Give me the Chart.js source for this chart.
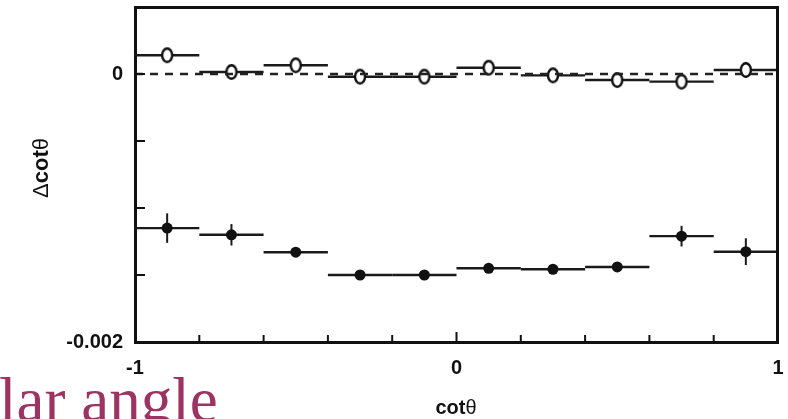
<!DOCTYPE html>
<html>
<head>
<meta charset="utf-8">
<script src="https://cdn.jsdelivr.net/npm/chart.js@4.4.1/dist/chart.umd.min.js"></script>
<style>
    html, body { margin: 0; padding: 0; background: #fff; overflow: hidden; }
    #wrap { position: relative; width: 788px; height: 419px; overflow: hidden; }
    #residChart { display: block; }
    #slideText {
        position: absolute; left: -1px; top: 369px;
        font-family: "Liberation Serif", "DejaVu Serif", serif;
        font-size: 63px; line-height: 63px; color: #9b3363;
        white-space: nowrap;
    }
</style>
</head>
<body>
<div id="wrap">
    <canvas id="residChart" width="788" height="419"></canvas>
    <div id="slideText">lar angle</div>
</div>
<script>
// bins in cot(theta), each 0.2 wide
const binCenters = [-0.9, -0.7, -0.5, -0.3, -0.1, 0.1, 0.3, 0.5, 0.7, 0.9];
const binHalfWidth = 0.1;

// open circles (after correction)
const openValues = [0.00014, 0.000015, 0.000065, -0.00002, -0.00002, 0.000047, -0.00001, -0.000045, -0.000057, 0.00003];
const openErrors = [0.00005, 0.00002, 0.00002, 0.00002, 0.00002, 0.00002, 0.00002, 0.00002, 0.00002, 0.00006];

// filled circles (before correction)
const filledValues = [-0.00115, -0.0012, -0.00133, -0.0015, -0.0015, -0.00145, -0.001457, -0.00144, -0.00121, -0.001326];
const filledErrors = [0.00011, 0.00008, 0.00003, 0.00003, 0.00003, 0.00003, 0.00003, 0.00003, 0.000077, 0.0001];

// axis ticks
const xTickLabels = [-1, 0, 1];
const yTickLabels = [0, -0.002];

const ink = '#111';

// open marker: slightly tall ellipse
function makeOpenMarker() {
    const c = document.createElement('canvas');
    c.width = 14; c.height = 18;
    const g = c.getContext('2d');
    g.beginPath();
    g.ellipse(7, 9, 5, 6.8, 0, 0, Math.PI * 2);
    g.fillStyle = '#fff';
    g.fill();
    g.lineWidth = 2.4;
    g.strokeStyle = ink;
    g.stroke();
    return c;
}

function toPoints(values) {
    return binCenters.map((x, i) => ({ x: x, y: values[i] }));
}

function near(v, list) {
    return list.some(t => Math.abs(v - t) < 1e-9);
}

// drop the label overhang so the plot box sits where the layout padding says
function noOverhang(s) {
    s.paddingTop = 0;
    s.paddingBottom = 0;
    s.paddingLeft = 0;
    s.paddingRight = 0;
}

// error bars, frame and inner ticks
const framePlugin = {
    id: 'framePlugin',
    beforeDatasetsDraw(chart) {
        const ctx = chart.ctx;
        const xs = chart.scales.x, ys = chart.scales.y;
        ctx.save();
        ctx.strokeStyle = '#1a1a1a';
        [[openValues, openErrors], [filledValues, filledErrors]].forEach(([vals, errs]) => {
            vals.forEach((v, i) => {
                const py = ys.getPixelForValue(v);
                ctx.lineWidth = 2.4;
                ctx.beginPath();
                ctx.moveTo(xs.getPixelForValue(binCenters[i] - binHalfWidth), py);
                ctx.lineTo(xs.getPixelForValue(binCenters[i] + binHalfWidth), py);
                ctx.stroke();
                const px = xs.getPixelForValue(binCenters[i]);
                ctx.lineWidth = 2;
                ctx.beginPath();
                ctx.moveTo(px, ys.getPixelForValue(v - errs[i]));
                ctx.lineTo(px, ys.getPixelForValue(v + errs[i]));
                ctx.stroke();
            });
        });
        ctx.restore();
    },
    afterDraw(chart) {
        const ctx = chart.ctx;
        const a = chart.chartArea;
        const xs = chart.scales.x, ys = chart.scales.y;
        ctx.save();
        ctx.strokeStyle = ink;

        // top and right frame
        ctx.lineWidth = 3;
        ctx.beginPath();
        ctx.moveTo(a.left, a.top + 0.5);
        ctx.lineTo(a.right - 0.5, a.top + 0.5);
        ctx.lineTo(a.right - 0.5, a.bottom);
        ctx.stroke();

        // inner ticks
        ctx.lineWidth = 2;
        ys.ticks.forEach(t => {
            const py = ys.getPixelForValue(t.value);
            ctx.beginPath();
            ctx.moveTo(a.left, py);
            ctx.lineTo(a.left + 10, py);
            ctx.stroke();
        });
        xs.ticks.forEach(t => {
            const px = xs.getPixelForValue(t.value);
            const len = Math.abs(t.value) < 1e-9 ? 10 : 7;
            ctx.beginPath();
            ctx.moveTo(px, a.bottom);
            ctx.lineTo(px, a.bottom - len);
            ctx.stroke();
        });

        // axis titles: symbol parts thin, "cot" bold
        const drawParts = (parts) => {
            let total = 0;
            parts.forEach(p => { ctx.font = p.font; p.w = ctx.measureText(p.text).width; total += p.w; });
            let x = -total / 2;
            parts.forEach(p => { ctx.font = p.font; ctx.fillText(p.text, x, 0); x += p.w; });
        };
        const bold = 'bold 20px "Liberation Sans", Arial, sans-serif';
        const thin = '20px "Liberation Sans", Arial, sans-serif';
        const boldY = 'bold 22px "Liberation Sans", Arial, sans-serif';
        const thinY = '22px "Liberation Sans", Arial, sans-serif';
        ctx.fillStyle = ink;
        ctx.textBaseline = 'middle';
        ctx.textAlign = 'left';

        ctx.save();
        ctx.translate(456, 408);
        drawParts([{ text: 'cot', font: bold }, { text: '\u03b8', font: thin }]);
        ctx.restore();

        ctx.save();
        ctx.translate(42, 168);
        ctx.rotate(-Math.PI / 2);
        drawParts([{ text: '\u0394', font: thinY }, { text: 'cot', font: boldY }, { text: '\u03b8', font: thinY }]);
        ctx.restore();

        ctx.restore();
    }
};

const tickFont = { family: '"Liberation Sans", Arial, sans-serif', size: 20, weight: 'bold' };

const ctx = document.getElementById('residChart').getContext('2d');
const residChart = new Chart(ctx, {
    type: 'scatter',
    data: {
        datasets: [
            {
                type: 'line',
                label: 'zero',
                data: [{ x: -1, y: 0 }, { x: 1, y: 0 }],
                borderColor: '#222',
                borderWidth: 2.4,
                borderDash: [8, 7],
                pointRadius: 0,
                fill: false
            },
            {
                label: 'open',
                data: toPoints(openValues),
                pointStyle: makeOpenMarker(),
                pointRadius: 6
            },
            {
                label: 'filled',
                data: toPoints(filledValues),
                pointStyle: 'circle',
                pointRadius: 5.5,
                backgroundColor: ink,
                borderWidth: 0
            }
        ]
    },
    options: {
        responsive: false,
        animation: false,
        devicePixelRatio: 1,
        layout: { padding: { top: 7, right: 10, left: 0, bottom: 0 } },
        plugins: {
            legend: { display: false },
            tooltip: { enabled: false }
        },
        scales: {
            x: {
                type: 'linear',
                min: -1,
                max: 1,
                grid: { display: false, drawTicks: false },
                border: { display: true, width: 3, color: ink },
                ticks: {
                    stepSize: 0.2,
                    padding: 14,
                    color: ink,
                    font: tickFont,
                    maxRotation: 0,
                    autoSkip: false,
                    callback: (v) => near(v, xTickLabels) ? String(Math.round(v)) : ''
                },
                afterFit: (s) => { s.height = 77; noOverhang(s); }
            },
            y: {
                type: 'linear',
                min: -0.002,
                max: 0.0005,
                grid: { display: false, drawTicks: false },
                border: { display: true, width: 3, color: ink },
                ticks: {
                    stepSize: 0.0005,
                    padding: 12,
                    color: ink,
                    font: tickFont,
                    autoSkip: false,
                    callback: (v) => {
                        if (!near(v, yTickLabels)) return '';
                        return Math.abs(v) < 1e-9 ? '0' : '-0.002';
                    }
                },
                afterFit: (s) => { s.width = 135; noOverhang(s); }
            }
        }
    },
    plugins: [framePlugin]
});
</script>
</body>
</html>
